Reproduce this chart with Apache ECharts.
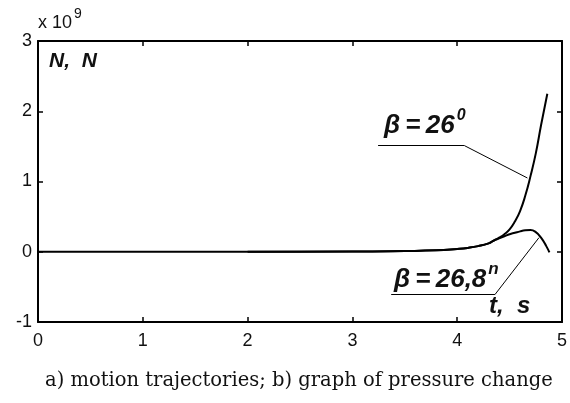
<!DOCTYPE html>
<html><head><meta charset="utf-8">
<script src="https://cdn.jsdelivr.net/npm/echarts@6/dist/echarts.min.js"></script>
<style>html,body{margin:0;padding:0;background:#fff}#c{width:570px;height:403px}</style>
</head><body><div id="c"></div>
<script>
const xTicks = [0, 1, 2, 3, 4, 5];
const yTicks = [-1, 0, 1, 2, 3];
const t26 = [0, 1, 2, 3, 3.5, 3.8, 4.0, 4.1, 4.2, 4.3, 4.35, 4.4, 4.45, 4.5, 4.55, 4.6, 4.65, 4.7, 4.75, 4.8, 4.86];
const n26 = [0, 0, 0, 0.002, 0.01, 0.02, 0.04, 0.055, 0.08, 0.12, 0.16, 0.2, 0.25, 0.32, 0.43, 0.58, 0.8, 1.08, 1.4, 1.8, 2.25];
const t268 = [2, 3, 3.5, 3.8, 4.0, 4.1, 4.2, 4.3, 4.35, 4.4, 4.45, 4.5, 4.55, 4.6, 4.65, 4.7, 4.75, 4.8, 4.85, 4.88];
const n268 = [0, 0.002, 0.01, 0.02, 0.04, 0.055, 0.08, 0.12, 0.16, 0.19, 0.22, 0.25, 0.27, 0.29, 0.305, 0.31, 0.28, 0.2, 0.08, -0.01];
const label26 = 'β\u2009=\u200926';
const label268 = 'β\u2009=\u200926,8';
const caption = 'a) motion trajectories; b) graph of pressure change';

const zip = (a, b) => a.map((v, i) => [v, b[i]]);
const chart = echarts.init(document.getElementById('c'));
const ticksStyle = {show: true, inside: true, length: 5, lineStyle: {color: '#000', width: 1.5}};
const lineSt = {color: '#000', width: 2};
const boldIt = {fontFamily: 'Liberation Sans', fontWeight: 'bold', fontStyle: 'italic', fill: '#111'};
chart.setOption({
  animation: false,
  grid: {left: 38, right: 5, top: 41, bottom: 81},
  xAxis: [
    {type: 'value', min: 0, max: 5, interval: 1, position: 'bottom',
     axisLine: {show: true, onZero: false, lineStyle: lineSt}, axisTick: ticksStyle,
     splitLine: {show: false},
     axisLabel: {margin: 10, color: '#111', fontFamily: 'Liberation Sans', fontSize: 18}},
    {type: 'value', min: 0, max: 5, interval: 1, position: 'top',
     axisLine: {show: true, onZero: false, lineStyle: lineSt}, axisTick: ticksStyle,
     splitLine: {show: false}, axisLabel: {show: false}}
  ],
  yAxis: [
    {type: 'value', min: -1, max: 3, interval: 1, position: 'left',
     axisLine: {show: true, onZero: false, lineStyle: lineSt}, axisTick: ticksStyle,
     splitLine: {show: false},
     axisLabel: {margin: 6, color: '#111', fontFamily: 'Liberation Sans', fontSize: 18}},
    {type: 'value', min: -1, max: 3, interval: 1, position: 'right',
     axisLine: {show: true, onZero: false, lineStyle: lineSt}, axisTick: ticksStyle,
     splitLine: {show: false}, axisLabel: {show: false}}
  ],
  series: [
    {type: 'line', data: zip(t26, n26), showSymbol: false, smooth: true,
     lineStyle: {color: '#000', width: 2}, silent: true,
     markLine: {symbol: 'none', silent: true, label: {show: false},
       lineStyle: {color: '#000', width: 1, type: 'solid'},
       data: [
         [{coord: [3.245, 1.51]}, {coord: [4.07, 1.51]}],
         [{coord: [4.07, 1.51]}, {coord: [4.67, 1.05]}],
         [{coord: [3.37, -0.61]}, {coord: [4.36, -0.61]}],
         [{coord: [4.36, -0.61]}, {coord: [4.78, 0.2]}]
       ]}},
    {type: 'line', data: zip(t268, n268), showSymbol: false, smooth: true,
     lineStyle: {color: '#000', width: 2}, silent: true}
  ],
  graphic: [
    {type: 'text', left: 38, top: 7, style: {
      text: '{a|x 10}{s|9}', rich: {
        a: {fontFamily: 'Liberation Sans', fontSize: 18, fill: '#111', padding: [9, 0, 0, 0]},
        s: {fontFamily: 'Liberation Sans', fontSize: 14, fill: '#111', padding: [0, 0, 9, 2]}}}},
    {type: 'text', left: 49, top: 51, style: Object.assign({
      text: 'N,  N', fontSize: 21}, boldIt)},
    {type: 'text', left: 384, top: 108, style: {
      text: '{a|' + label26 + '}{s|0}', rich: {
        a: Object.assign({fontSize: 26, padding: [8, 0, 0, 0]}, boldIt),
        s: Object.assign({fontSize: 16, padding: [0, 0, 12, 2]}, boldIt)}}},
    {type: 'text', left: 394, top: 261, style: {
      text: '{a|' + label268 + '}{s|n}', rich: {
        a: Object.assign({fontSize: 26, padding: [8, 0, 0, 0]}, boldIt),
        s: Object.assign({fontSize: 17, padding: [0, 0, 12, 2]}, boldIt)}}},
    {type: 'text', left: 489, top: 294, style: Object.assign({
      text: 't,  s', fontSize: 24}, boldIt)},
    {type: 'text', left: 45, top: 371, style: {
      text: caption, fontFamily: 'DejaVu Serif', fontSize: 19.5, fill: '#111'}}
  ]
});
</script></body></html>
